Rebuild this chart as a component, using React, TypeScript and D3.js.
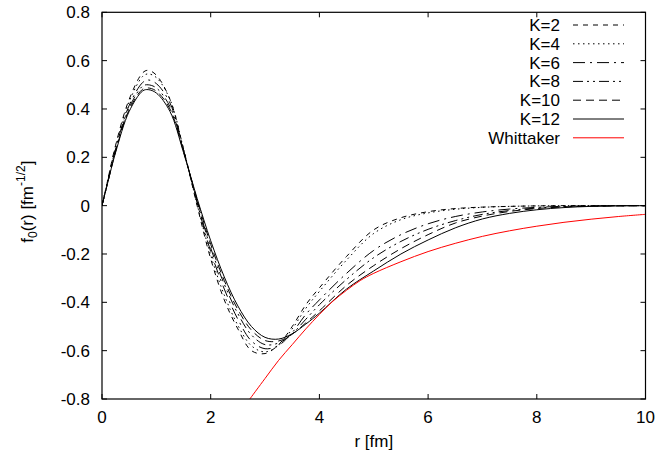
import React from "react";
import * as d3 from "d3";

const rGrid = [0, 0.1, 0.25, 0.5, 0.75, 0.85, 1.0, 1.25, 1.5, 1.75, 2.0, 2.25, 2.5, 2.75, 3.0, 3.25, 3.5, 3.75, 4.0, 4.5, 5.0, 5.5, 6.0, 6.5, 7.0, 7.5, 8.0, 8.5, 9.0, 9.5, 10];

const k2 = [0, 0.1, 0.25, 0.44, 0.55, 0.56, 0.54, 0.44, 0.235, 0.0, -0.22, -0.39, -0.51, -0.6, -0.612, -0.575, -0.5, -0.41, -0.34, -0.21, -0.1, -0.05, -0.025, -0.012, -0.006, -0.003, -0.001, 0, 0, 0, 0];
const k4 = [0, 0.1, 0.245, 0.43, 0.535, 0.545, 0.53, 0.44, 0.235, 0.005, -0.205, -0.37, -0.495, -0.58, -0.605, -0.578, -0.51, -0.425, -0.355, -0.225, -0.115, -0.058, -0.03, -0.015, -0.007, -0.003, -0.001, 0, 0, 0, 0];
const k6 = [0, 0.095, 0.235, 0.415, 0.51, 0.52, 0.505, 0.425, 0.23, 0.012, -0.19, -0.345, -0.47, -0.56, -0.592, -0.578, -0.525, -0.45, -0.39, -0.28, -0.185, -0.12, -0.075, -0.045, -0.026, -0.014, -0.007, -0.003, -0.001, 0, 0];
const k8 = [0, 0.092, 0.228, 0.405, 0.495, 0.5, 0.487, 0.41, 0.228, 0.018, -0.175, -0.325, -0.447, -0.535, -0.575, -0.568, -0.53, -0.47, -0.41, -0.305, -0.215, -0.148, -0.098, -0.062, -0.036, -0.02, -0.01, -0.004, -0.002, 0, 0];
const k10 = [0, 0.09, 0.224, 0.397, 0.482, 0.487, 0.474, 0.4, 0.224, 0.024, -0.16, -0.31, -0.43, -0.515, -0.558, -0.56, -0.532, -0.485, -0.435, -0.33, -0.248, -0.178, -0.12, -0.072, -0.043, -0.024, -0.012, -0.005, -0.002, -0.001, 0];
const k12 = [0, 0.09, 0.22, 0.39, 0.475, 0.48, 0.466, 0.39, 0.22, 0.03, -0.145, -0.295, -0.415, -0.5, -0.545, -0.552, -0.53, -0.49, -0.445, -0.345, -0.27, -0.2, -0.142, -0.092, -0.055, -0.032, -0.017, -0.008, -0.003, -0.001, 0];

const whitR = [2.72, 3.0, 3.25, 3.5, 3.75, 4.0, 4.25, 4.5, 4.75, 5.0, 5.5, 6.0, 6.5, 7.0, 7.5, 8.0, 8.5, 9.0, 9.5, 10];
const whitV = [-0.8, -0.715, -0.64, -0.575, -0.51, -0.45, -0.395, -0.35, -0.31, -0.28, -0.232, -0.19, -0.156, -0.127, -0.104, -0.085, -0.069, -0.056, -0.045, -0.036];

const seriesNames = ["K=2", "K=4", "K=6", "K=8", "K=10", "K=12", "Whittaker"];
const xTicks = [0, 2, 4, 6, 8, 10];
const xTickLabels = ["0", "2", "4", "6", "8", "10"];
const yTicks = [-0.8, -0.6, -0.4, -0.2, 0, 0.2, 0.4, 0.6, 0.8];
const yTickLabels = ["-0.8", "-0.6", "-0.4", "-0.2", "0", "0.2", "0.4", "0.6", "0.8"];

const W = 658, H = 459;
const L = 102, R = 645.5, T = 12.3, B = 399;
const font = "'Liberation Sans', Arial, Helvetica, sans-serif";

const dashes = ["5,5", "1.5,3.5", "12,5,2,5", "10,4,2,4,2,4", "8,5", "none", "none"];
const colors = ["#000", "#000", "#000", "#000", "#000", "#000", "#ff0000"];

export default function App() {
  const x = d3.scaleLinear().domain([0, 10]).range([L, R]);
  const y = d3.scaleLinear().domain([-0.8, 0.8]).range([B, T]);
  const line = d3.line<[number, number]>().x(d => x(d[0])).y(d => y(d[1])).curve(d3.curveCatmullRom.alpha(0.5));
  const kSeries = [k2, k4, k6, k8, k10, k12].map(vals => rGrid.map((r, i) => [r, vals[i]] as [number, number]));
  const whit = whitR.map((r, i) => [r, whitV[i]] as [number, number]);
  const all = [...kSeries, whit];
  const tick = 5;
  return (
    <svg width={W} height={H} style={{ position: "fixed", left: 0, top: 0, background: "#fff" }} fontFamily={font}>
      <defs>
        <clipPath id="plot"><rect x={L} y={T} width={R - L} height={B - T} /></clipPath>
      </defs>
      <rect width={W} height={H} fill="#fff" />
      <g clipPath="url(#plot)">
        {all.map((d, i) => (
          <path key={i} d={line(d) || ""} fill="none" stroke={colors[i]} strokeWidth={1} strokeDasharray={dashes[i]} />
        ))}
      </g>
      <rect x={L} y={T} width={R - L} height={B - T} fill="none" stroke="#000" strokeWidth={1.2} />
      {xTicks.map((t, i) => (
        <g key={"x" + i}>
          <line x1={x(t)} x2={x(t)} y1={B} y2={B - tick} stroke="#000" />
          <line x1={x(t)} x2={x(t)} y1={T} y2={T + tick} stroke="#000" />
          <text x={x(t)} y={423} fontSize={17} textAnchor="middle">{xTickLabels[i]}</text>
        </g>
      ))}
      {yTicks.map((t, i) => (
        <g key={"y" + i}>
          <line x1={L} x2={L + tick} y1={y(t)} y2={y(t)} stroke="#000" />
          <line x1={R} x2={R - tick} y1={y(t)} y2={y(t)} stroke="#000" />
          <text x={90} y={y(t) + 6} fontSize={17} textAnchor="end">{yTickLabels[i]}</text>
        </g>
      ))}
      <text x={(L + R) / 2} y={447} fontSize={17} textAnchor="middle">r [fm]</text>
      <text transform={`translate(33,${(T + B) / 2 - 4}) rotate(-90)`} fontSize={17} textAnchor="middle">
        f<tspan fontSize={12} dy={4}>0</tspan><tspan dy={-4}>(r)  [fm</tspan><tspan fontSize={12} dy={-8}>-1/2</tspan><tspan dy={8}>]</tspan>
      </text>
      {seriesNames.map((n, i) => {
        const ly = 25 + 18.8 * i;
        return (
          <g key={"l" + i}>
            <text x={560} y={ly + 6} fontSize={17} textAnchor="end">{n}</text>
            <line x1={573} x2={624} y1={ly} y2={ly} stroke={colors[i]} strokeWidth={1} strokeDasharray={dashes[i]} />
          </g>
        );
      })}
    </svg>
  );
}
